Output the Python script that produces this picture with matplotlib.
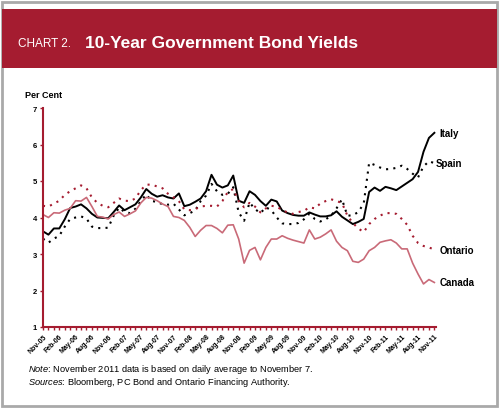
import matplotlib.pyplot as plt
from matplotlib.patches import Rectangle

# month labels shown every 3 months, Nov-05 .. Nov-11
tick_labels = ['Nov-05', 'Feb-06', 'May-06', 'Aug-06', 'Nov-06', 'Feb-07', 'May-07',
               'Aug-07', 'Nov-07', 'Feb-08', 'May-08', 'Aug-08', 'Nov-08', 'Feb-09',
               'May-09', 'Aug-09', 'Nov-09', 'Feb-10', 'May-10', 'Aug-10', 'Nov-10',
               'Feb-11', 'May-11', 'Aug-11', 'Nov-11']

# monthly yields (per cent), Nov-05 .. Nov-11
italy = [3.62, 3.53, 3.70, 3.70, 3.95, 4.26, 4.30, 4.36, 4.25, 4.10, 4.00, 3.99, 3.98,
         4.15, 4.33, 4.20, 4.28, 4.36, 4.55, 4.78, 4.65, 4.57, 4.61, 4.55, 4.52, 4.66,
         4.31, 4.35, 4.43, 4.52, 4.72, 5.17, 4.90, 4.82, 4.88, 5.15, 4.46, 4.40, 4.72,
         4.62, 4.45, 4.32, 4.49, 4.44, 4.19, 4.12, 4.07, 4.05, 4.05, 4.14, 4.08, 4.03,
         4.03, 4.06, 4.17, 4.02, 3.92, 3.82, 3.88, 3.96, 4.70, 4.82, 4.73, 4.84, 4.80,
         4.75, 4.85, 4.95, 5.05, 5.25, 5.80, 6.18, 6.32]
spain = [3.42, 3.31, 3.42, 3.50, 3.75, 3.96, 4.00, 4.03, 3.97, 3.75, 3.71, 3.71, 3.72,
         4.05, 4.27, 4.15, 4.12, 4.24, 4.45, 4.63, 4.45, 4.43, 4.36, 4.35, 4.38, 4.22,
         4.06, 4.12, 4.19, 4.45, 4.60, 4.92, 4.72, 4.62, 4.65, 4.83, 4.14, 3.91, 4.41,
         4.23, 4.12, 4.28, 4.20, 4.00, 3.84, 3.82, 3.82, 3.85, 3.95, 4.10, 3.96, 3.89,
         3.95, 4.05, 4.25, 4.50, 4.05, 4.06, 4.15, 4.38, 5.50, 5.44, 5.37, 5.32, 5.33,
         5.36, 5.42, 5.33, 5.20, 5.10, 5.40, 5.54, 5.49]
ontario = [4.32, 4.30, 4.38, 4.46, 4.62, 4.72, 4.80, 4.88, 4.80, 4.55, 4.40, 4.32, 4.28,
           4.40, 4.52, 4.46, 4.45, 4.52, 4.75, 4.90, 4.90, 4.85, 4.80, 4.65, 4.55, 4.45,
           4.22, 4.20, 4.23, 4.30, 4.32, 4.32, 4.30, 4.45, 4.70, 4.78, 4.45, 4.28, 4.40,
           4.30, 4.14, 4.25, 4.32, 4.30, 4.20, 4.14, 4.10, 4.15, 4.18, 4.28, 4.25, 4.38,
           4.45, 4.50, 4.45, 4.40, 4.05, 3.85, 3.70, 3.60, 3.82, 3.96, 4.05, 4.12, 4.12,
           4.10, 3.96, 3.80, 3.50, 3.30, 3.22, 3.18, 3.12]
canada = [4.08, 4.00, 4.13, 4.12, 4.20, 4.25, 4.46, 4.45, 4.55, 4.30, 4.03, 4.01, 3.96,
          4.08, 4.15, 4.03, 4.10, 4.18, 4.40, 4.55, 4.53, 4.46, 4.37, 4.30, 4.03, 4.00,
          3.92, 3.73, 3.48, 3.65, 3.78, 3.78, 3.70, 3.58, 3.79, 3.80, 3.41, 2.75, 3.10,
          3.18, 2.84, 3.18, 3.41, 3.41, 3.50, 3.43, 3.38, 3.34, 3.30, 3.66, 3.41, 3.46,
          3.55, 3.66, 3.35, 3.18, 3.09, 2.80, 2.77, 2.86, 3.09, 3.18, 3.32, 3.36, 3.39,
          3.30, 3.14, 3.14, 2.75, 2.45, 2.18, 2.30, 2.22]

red = '#a51c30'
plt.rcParams['font.family'] = ['Liberation Sans', 'DejaVu Sans']
plt.rcParams['mathtext.fontset'] = 'custom'
plt.rcParams['mathtext.it'] = 'Liberation Sans:italic'
plt.rcParams['mathtext.rm'] = 'Liberation Sans'

fig = plt.figure(figsize=(5, 4.1), dpi=100)

# frame and title banner
fig.patches.append(Rectangle((0.004, 0.007), 0.99, 0.985, transform=fig.transFigure,
                             fill=False, ec='#a9a9a9', lw=2))
fig.patches.append(Rectangle((0.004, 1 - 69 / 410), 0.99, 59 / 410,
                             transform=fig.transFigure, fc=red, ec='none'))
fig.text(18 / 500, 1 - 44 / 410, 'CHART 2.', color='white', fontsize=8.5, va='center')
fig.text(85 / 500, 1 - 43 / 410, '10-Year Government Bond Yields', color='white',
         fontsize=12.5, fontweight='bold', va='center')
fig.text(25 / 500, 1 - 95 / 410, 'Per Cent', fontsize=6.5, fontweight='bold', va='center')

ax = fig.add_axes([43 / 500, 1 - 328 / 410, 393 / 500, 219 / 410])
x = list(range(len(italy)))
ax.plot(x, italy, color='black', lw=1.4)
ax.plot(x, spain, color='black', lw=1.5, linestyle=(0, (1, 2.5)))
ax.plot(x, ontario, color=red, lw=1.5, linestyle=(0, (1, 2.5)))
ax.plot(x, canada, color='#c96a78', lw=1.2)

ax.set_xlim(0, 72.3)
ax.set_ylim(1, 7)
for s in ['top', 'right']:
    ax.spines[s].set_visible(False)
for s in ['left', 'bottom']:
    ax.spines[s].set_color(red)
    ax.spines[s].set_linewidth(1.5)

labels = [''] * len(italy)
for k, lab in enumerate(tick_labels):
    labels[3 * k] = lab
ax.set_xticks(x)
ax.set_xticklabels(labels, rotation=45, ha='right', rotation_mode='anchor',
                   fontsize=5, fontweight='bold')
ax.set_yticks(range(1, 8))
ax.set_yticklabels([str(v) for v in range(1, 8)], fontsize=5.5, fontweight='bold')
ax.tick_params(colors=red, length=2.5, width=1, labelcolor='black', pad=2)
ax.tick_params(axis='x', pad=1.5)

# series labels at the end of each line
for name, series, dx in [('Italy', italy, 1.0), ('Spain', spain, 0.2),
                         ('Ontario', ontario, 0.9), ('Canada', canada, 0.9)]:
    ax.text(72 + dx, series[-1], name, fontsize=7, fontweight='bold',
            va='center', ha='left', clip_on=False)

fig.text(28 / 500, 1 - 370 / 410,
         r'$\it{Note}$: November 2011 data is based on daily average to November 7.',
         fontsize=6.7, va='center')
fig.text(28 / 500, 1 - 383 / 410,
         r'$\it{Sources}$: Bloomberg, PC Bond and Ontario Financing Authority.',
         fontsize=6.7, va='center')

fig.savefig('out.png', dpi=100)
